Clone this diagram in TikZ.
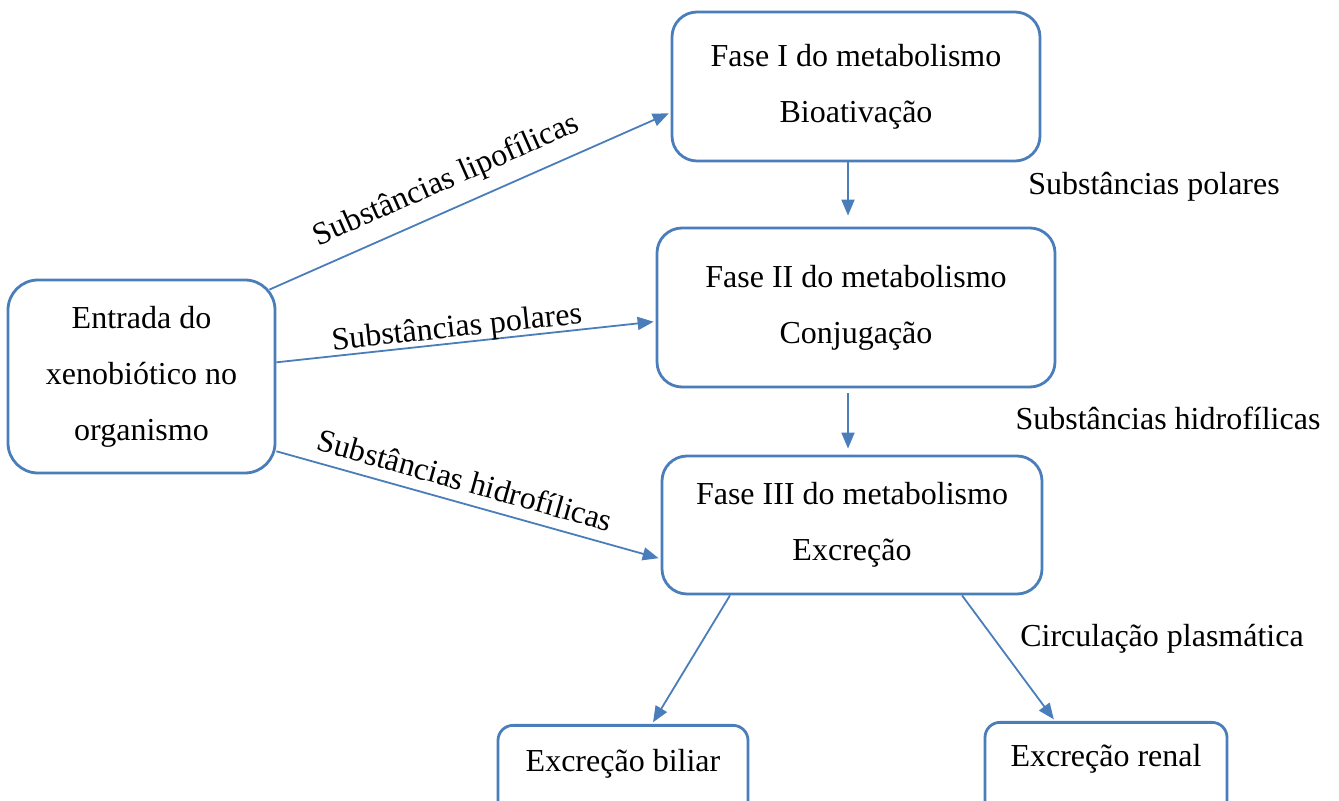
\documentclass[tikz,border=0pt]{standalone}
\usepackage{fontspec}
\setmainfont{Liberation Serif}
\usetikzlibrary{arrows.meta}
\definecolor{boxblue}{RGB}{74,126,187}

\begin{document}
\begin{tikzpicture}[
        x=0.5pt, y=-0.5pt,
        every node/.style={font=\fontsize{16pt}{28pt}\selectfont},
        box/.style={draw=boxblue, line width=1.4pt, rounded corners=12.5pt, align=center, inner sep=0pt},
        flow/.style={draw=boxblue, line width=0.9pt, -{Triangle[length=8pt,width=6.5pt]}, shorten >=1pt},
        slopelabel/.style={sloped, anchor=base, inner sep=0pt}
    ]
    \path[use as bounding box, clip] (0,0) rectangle (1339,801);
    \node[box, minimum width=133.5pt, minimum height=96.5pt, rounded corners=15pt] (entrada) at (141.5,376.5) {Entrada do\\xenobiótico no\\organismo};
    \node[box, minimum width=184pt, minimum height=74.5pt] (fase1) at (856,86.5) {Fase I do metabolismo\\Bioativação};
    \node[box, minimum width=199pt, minimum height=79.5pt] (fase2) at (856,307.5) {Fase II do metabolismo\\Conjugação};
    \node[box, minimum width=190pt, minimum height=69pt] (fase3) at (852,525) {Fase III do metabolismo\\Excreção};
    \node[box, rounded corners=7.5pt, minimum width=125pt, text height=23pt, text depth=25pt, anchor=north] (biliar) at (623,724) {Excreção biliar};
    \node[box, rounded corners=7.5pt, minimum width=121pt, text height=22pt, text depth=25pt, anchor=north] (renal) at (1106,721) {Excreção renal};

    % side labels
    \node[anchor=base] (polares) at (1154,195) {Substâncias polares};
    \node[anchor=base] (hidro) at (1168,430) {Substâncias hidrofílicas};
    \node[anchor=base] (plasma) at (1162,647) {Circulação plasmática};

    % connectors
    \draw[flow] ([xshift=-3.5pt,yshift=-5.5pt]entrada.north east) -- node[slopelabel, pos=0.47, yshift=10pt] {Substâncias lipofílicas} (fase1.188);
    \draw[flow] (entrada.6) -- node[slopelabel, pos=0.48, yshift=3pt] {Substâncias polares} (fase2.184);
    \draw[flow] (entrada.-29) -- node[slopelabel, pos=0.475, yshift=6pt] {Substâncias hidrofílicas} (fase3.190);
    \draw[flow, shorten >=5.5pt] ([xshift=-4pt]fase1.south) -- ([xshift=-4pt]fase2.north);
    \draw[flow, shorten <=2.5pt, shorten >=3pt] ([xshift=-4pt]fase2.south) -- ([xshift=-4pt]fase2.south |- fase3.north);
    \draw[flow] ([xshift=-61pt]fase3.south) -- ([xshift=14.5pt]biliar.north);
    \draw[flow] ([xshift=55pt]fase3.south) -- ([xshift=-25.5pt]renal.north);
\end{tikzpicture}
\end{document}
